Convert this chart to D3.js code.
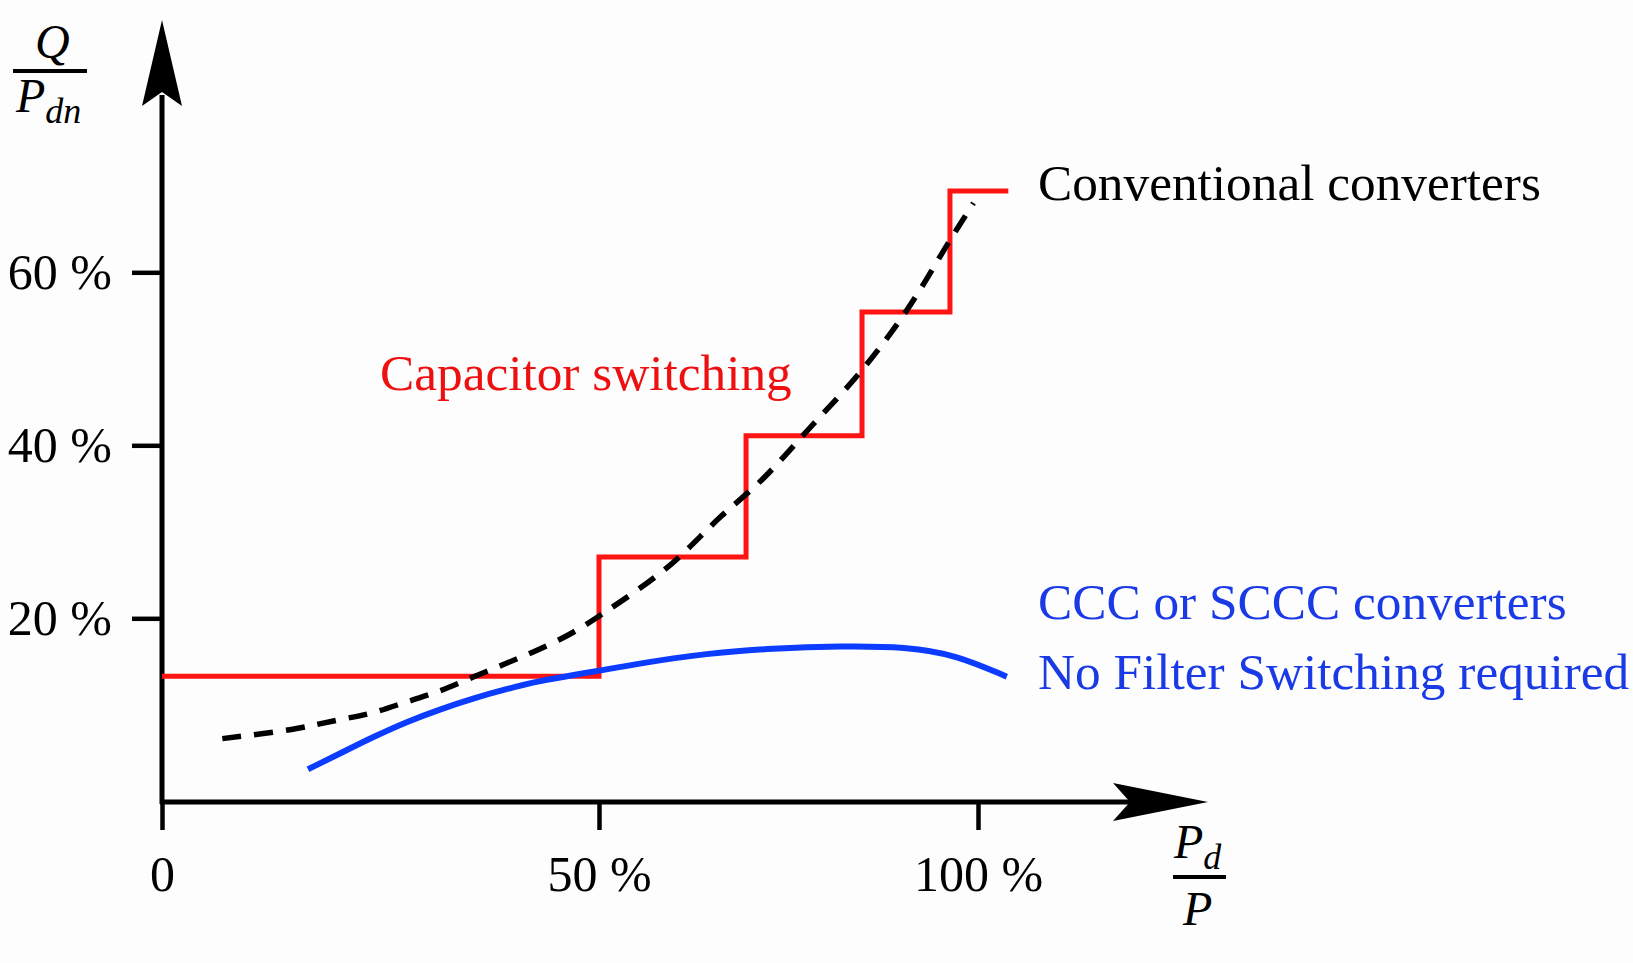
<!DOCTYPE html>
<html>
<head>
<meta charset="utf-8">
<script src="https://cdn.jsdelivr.net/npm/d3@7/dist/d3.min.js"></script>
<style>
  html, body { margin: 0; padding: 0; background: #fdfdfd; }
  svg { display: block; }
  text { font-family: "Liberation Serif", "Times New Roman", serif; }
</style>
</head>
<body>
<svg id="chart" width="1633" height="963"></svg>
<script>
// Reactive power demand vs. DC power: conventional vs. CCC converters.

// capacitor switching steps (Pd/P in %, Q/Pdn in %)
const stepPd = [0, 50, 69.4, 84.7, 96.3, 104];
const stepQ = [13.7, 27.1, 41.1, 55.4, 69.4, 69.4];

// conventional converters (dashed)
const convPd = [6.9, 14.8, 20.0, 24.0, 28.0, 31.8, 35.6, 39.4, 43.1, 46.9, 50.6, 58.9, 66.0, 71.7, 77.8, 84.7, 90.6, 96.3, 99.4];
const convQ = [6.9, 7.9, 8.9, 9.7, 10.9, 12.1, 13.6, 15.1, 16.6, 18.4, 20.6, 25.8, 31.7, 36.2, 42.0, 48.7, 55.6, 63.7, 68.0];

// CCC / SCCC converters
const cccPd = [16.7, 20.4, 24.2, 28.0, 31.8, 35.6, 39.4, 43.3, 47.1, 50.1, 55.4, 64.2, 73.0, 81.8, 90.6, 97.2, 103.8];
const cccQ = [3.56, 5.3, 7.1, 8.74, 10.09, 11.29, 12.3, 13.21, 13.83, 14.3, 15.1, 16.19, 16.73, 16.98, 16.91, 16.0, 13.64];

const xTicks = [0, 50, 100];
const yTicks = [20, 40, 60];

const svg = d3.select("#chart");

const x = d3.scaleLinear().domain([0, 50, 100]).range([162, 599, 978]);
const y = d3.scaleLinear().domain([0, 20, 60]).range([802, 618.3, 272.3]);

const red = "#ff1414";
const blue = "#0b3cff";

// axes
const yAxis = svg.append("g")
  .attr("transform", `translate(${x(0)},0)`)
  .call(d3.axisLeft(y).tickValues(yTicks).tickSize(30).tickPadding(20)
    .tickFormat(d => d + " %"));

const xAxis = svg.append("g")
  .attr("transform", `translate(0,${y(0)})`)
  .call(d3.axisBottom(x).tickValues(xTicks).tickSize(28).tickPadding(25)
    .tickFormat(d => d === 0 ? "0" : d + " %"));

[xAxis, yAxis].forEach(a => {
  a.select(".domain").remove();
  a.selectAll("line").attr("stroke", "#000").attr("stroke-width", 4.5);
  a.selectAll("text")
    .attr("fill", "#000")
    .attr("font-size", 50)
    .style("font-family", "'Liberation Serif', serif");
});

// axis lines with arrow heads
svg.append("line")
  .attr("x1", x(0)).attr("y1", y(0) + 2)
  .attr("x2", x(0)).attr("y2", 95)
  .attr("stroke", "#000").attr("stroke-width", 5);
svg.append("path")
  .attr("d", `M${x(0)},20 L${x(0) + 20},106 L${x(0)},92 L${x(0) - 20},106 Z`)
  .attr("fill", "#000");

svg.append("line")
  .attr("x1", x(0) - 2).attr("y1", y(0))
  .attr("x2", 1135).attr("y2", y(0))
  .attr("stroke", "#000").attr("stroke-width", 5);
svg.append("path")
  .attr("d", `M1208,${y(0)} L1113,${y(0) - 19} L1130,${y(0)} L1113,${y(0) + 19} Z`)
  .attr("fill", "#000");

// series
const stepLine = d3.line()
  .x(d => x(d[0])).y(d => y(d[1]))
  .curve(d3.curveStepAfter);

const smooth = d3.line()
  .x(d => x(d[0])).y(d => y(d[1]))
  .curve(d3.curveCatmullRom.alpha(0.5));

const smoother = d3.line()
  .x(d => x(d[0])).y(d => y(d[1]))
  .curve(d3.curveBasis);

svg.append("path")
  .datum(d3.zip(stepPd, stepQ))
  .attr("d", stepLine)
  .attr("fill", "none")
  .attr("stroke", red)
  .attr("stroke-width", 5);

svg.append("path")
  .datum(d3.zip(cccPd, cccQ))
  .attr("d", smoother)
  .attr("fill", "none")
  .attr("stroke", blue)
  .attr("stroke-width", 6);

svg.append("path")
  .datum(d3.zip(convPd, convQ))
  .attr("d", smooth)
  .attr("fill", "none")
  .attr("stroke", "#000")
  .attr("stroke-width", 5.5)
  .attr("stroke-dasharray", "19,13");

// annotations
const note = (tx, ty, str, color) => svg.append("text")
  .attr("x", tx).attr("y", ty)
  .attr("font-size", 51.3)
  .attr("fill", color)
  .text(str);

note(1038, 200, "Conventional converters", "#000");
note(380, 390, "Capacitor switching", "#ee1010");
note(1038, 619, "CCC or SCCC converters", "#1a3ae6");
note(1038, 689, "No Filter Switching required", "#1a3ae6");

// axis titles as fractions
function fraction(cx, top, num, sub, den, barX1, barX2, barY, denY) {
  const t = svg.append("text")
    .attr("x", cx).attr("y", top)
    .attr("font-size", 48)
    .attr("font-style", "italic")
    .attr("fill", "#000");
  t.append("tspan").text(num[0]);
  if (num[1]) t.append("tspan").attr("font-size", 36).attr("dy", 11).text(num[1]);
  svg.append("line")
    .attr("x1", barX1).attr("x2", barX2)
    .attr("y1", barY).attr("y2", barY)
    .attr("stroke", "#000").attr("stroke-width", 4);
  const b = svg.append("text")
    .attr("x", den[0]).attr("y", denY)
    .attr("font-size", 48)
    .attr("font-style", "italic")
    .attr("fill", "#000");
  b.append("tspan").text(den[1]);
  if (sub) b.append("tspan").attr("font-size", 36).attr("dy", 11).text(sub);
}

fraction(35, 58, ["Q"], "dn", [16, "P"], 13, 87, 71, 112);
fraction(1174, 858, ["P", "d"], null, [1183, "P"], 1173, 1226, 877, 925);
</script>
</body>
</html>
